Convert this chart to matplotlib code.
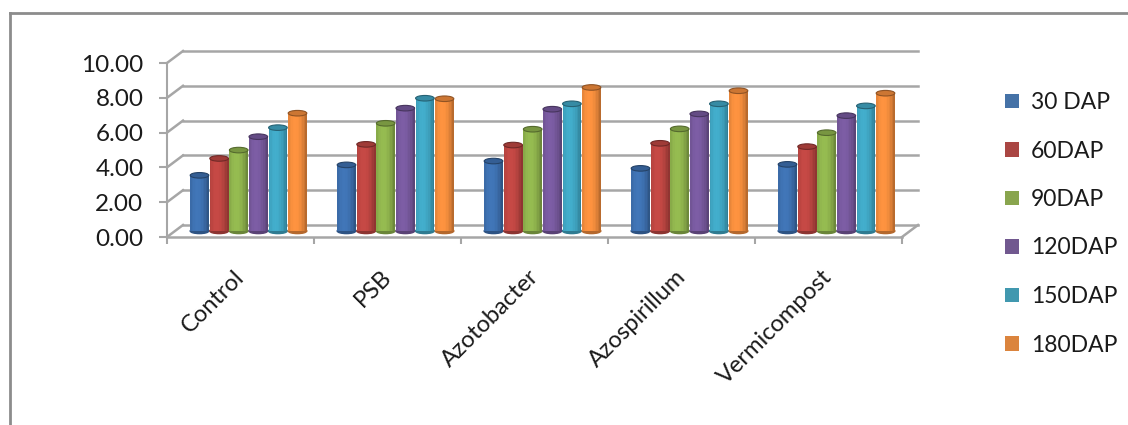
import matplotlib
matplotlib.use("Agg")
import numpy as np
import matplotlib.pyplot as plt
import matplotlib.colors as mcolors
from matplotlib.patches import Rectangle, Ellipse, Patch
from matplotlib.lines import Line2D
from matplotlib.transforms import ScaledTranslation

plt.rcParams["font.family"] = ["Lato", "DejaVu Sans"]

categories = ["Control", "PSB", "Azotobacter", "Azospirillum", "Vermicompost"]
series = ["30 DAP", "60DAP", "90DAP", "120DAP", "150DAP", "180DAP"]
dap30 = [3.20, 3.80, 4.02, 3.60, 3.83]
dap60 = [4.17, 4.98, 4.94, 5.04, 4.85]
dap90 = [4.65, 6.19, 5.85, 5.87, 5.65]
dap120 = [5.42, 7.06, 7.00, 6.73, 6.63]
dap150 = [5.94, 7.63, 7.31, 7.31, 7.19]
dap180 = [6.77, 7.60, 8.25, 8.06, 7.92]
values = [dap30, dap60, dap90, dap120, dap150, dap180]
yticks = [0, 2, 4, 6, 8, 10]

colors = ["#3d6fae", "#bb4541", "#8db14c", "#76589c", "#3fa4c1", "#f08b3c"]
legend_colors = ["#4572a7", "#aa4643", "#89a54e", "#71588f", "#4198af", "#db843d"]
grid_color = "#a6a6a6"

W, H, DPI = 1128, 425, 100
fig = plt.figure(figsize=(W / DPI, H / DPI), dpi=DPI)
ax = fig.add_axes([167 / W, 188 / H, 735 / W, 174 / H])
ax.set_xlim(0, len(categories))
ax.set_ylim(0, 10)
for s in ["top", "right", "bottom"]:
    ax.spines[s].set_visible(False)
ax.spines["left"].set_color(grid_color)
ax.spines["left"].set_linewidth(1.5)


def shifted(dx, dy):
    # pixel offset for the depth of the 3d box
    return ax.transData + ScaledTranslation(dx / DPI, dy / DPI, fig.dpi_scale_trans)


back = shifted(16, 12)
mid = shifted(8, 6)
n = len(categories)

# back wall grid, side wall diagonals, floor
for t in yticks:
    ax.plot([0, n], [t, t], color=grid_color, lw=1.8, transform=back, clip_on=False, zorder=1)
for t in yticks:
    x0, y0 = ax.transData.transform((0, t))
    ax.plot([x0, x0 + 16], [y0, y0 + 12], color=grid_color, lw=1.8,
            transform=None, clip_on=False, zorder=1)
x0, y0 = ax.transData.transform((n, 0))
ax.plot([x0, x0 + 16], [y0, y0 + 12], color=grid_color, lw=1.8,
        transform=None, clip_on=False, zorder=1)
ax.plot([0, n], [0, 0], color=grid_color, lw=1.8, clip_on=False, zorder=1)

# cylinders: thin vertical strips, shaded darker toward the edges
group = 0.8
w = group / len(series)
bw = w * 0.95
nstrip = 12
u = (np.arange(nstrip) + 0.5) / nstrip * 2 - 1
shade = 0.68 + 0.38 * np.cos(np.clip(u + 0.25, -1.3, 1.3) * 1.2) ** 0.8
for j, vals in enumerate(values):
    base = np.array(mcolors.to_rgb(colors[j]))
    for i, v in enumerate(vals):
        x = i + 0.5 + (j - 2.5) * w
        left = x - bw / 2
        ax.add_patch(Ellipse((x, 0), bw, 0.3, color=base * 0.75,
                             transform=mid, clip_on=False, zorder=2))
        for k in range(nstrip):
            col = np.clip(base * shade[k], 0, 1)
            ax.add_patch(Rectangle((left + k * bw / nstrip, 0), bw / nstrip * 1.08, v,
                                   color=col, lw=0, transform=mid, clip_on=False, zorder=2))
        ax.add_patch(Ellipse((x, v), bw, 0.32, fc=base * 0.85, ec=base * 0.6, lw=0.8,
                             transform=mid, clip_on=False, zorder=3))

ax.set_yticks(yticks)
ax.set_yticklabels([f"{t:.2f}" for t in yticks])
ax.tick_params(axis="y", direction="out", length=6, width=1.5, color=grid_color,
               pad=11, labelsize=17.5, labelcolor="#1a1a1a")
ax.set_xticks([i + 0.5 for i in range(n)])
ax.set_xticklabels(categories, rotation=45, ha="right", va="top")
ax.set_xticks(range(n + 1), minor=True)
ax.tick_params(axis="x", which="major", length=0, pad=21, labelsize=17, labelcolor="#1a1a1a")
ax.tick_params(axis="x", which="minor", direction="out", length=5, width=1.5, color=grid_color)
for lab in ax.get_xticklabels():
    lab.set_transform(lab.get_transform() + ScaledTranslation(8 / DPI, 0, fig.dpi_scale_trans))

handles = [Patch(facecolor=c, edgecolor="none") for c in legend_colors]
fig.legend(handles, series, loc="upper left", bbox_to_anchor=(1005 / W, 1 - 92 / H),
           frameon=False, fontsize=16.5, handlelength=0.62, handleheight=0.62,
           handletextpad=0.5, labelspacing=1.2, borderpad=0, borderaxespad=0,
           labelcolor="#1a1a1a")

# outer chart border
fig.add_artist(Line2D([10 / W, 10 / W], [0, 1 - 13 / H], color="#8c8c8c", lw=2))
fig.add_artist(Line2D([10 / W, 1], [1 - 13 / H, 1 - 13 / H], color="#8c8c8c", lw=2))

fig.savefig("out.png", dpi=DPI)
